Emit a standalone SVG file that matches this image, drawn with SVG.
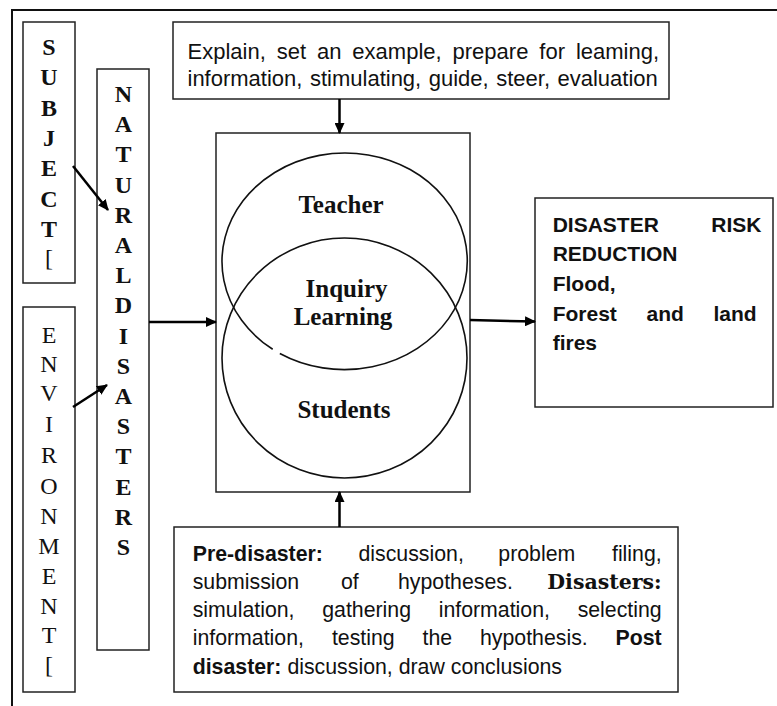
<svg xmlns="http://www.w3.org/2000/svg" width="777" height="706" viewBox="0 0 777 706">
<defs>
<marker id="ah" markerUnits="userSpaceOnUse" markerWidth="11" markerHeight="10" refX="10" refY="5" orient="auto">
<path d="M0,0 L11,5 L0,10 z" fill="#000"/>
</marker>
<style>
.frame{stroke:#111;stroke-width:2;fill:none}
.box{fill:#fff;stroke:#222;stroke-width:1.5}
.ell{fill:none;stroke:#111;stroke-width:1.6}
.conn{stroke:#000;stroke-width:2.5;fill:none;marker-end:url(#ah)}
.ser{font-family:"Liberation Serif","Times New Roman",serif;fill:#111}
.sans{font-family:"Liberation Sans",Arial,sans-serif;fill:#111}
.vl{font-size:24px;text-anchor:middle}
.b{font-weight:bold}
.n{font-weight:normal}
.t22{font-size:22px}
.t21{font-size:21.3px}
.lab{font-size:25px;font-weight:bold;text-anchor:middle}
</style>
</defs>
<g id="frame">
<line class="frame" x1="12" y1="10" x2="777" y2="10"/>
<line class="frame" x1="12" y1="9" x2="12" y2="706"/>
</g>
<g id="subject">
<rect class="box" x="23" y="22" width="52" height="261"/>
<text class="ser vl b">
<tspan x="49" y="55">S</tspan><tspan x="49" y="85.3">U</tspan><tspan x="49" y="115.6">B</tspan><tspan x="49" y="145.9">J</tspan><tspan x="49" y="176.2">E</tspan><tspan x="49" y="206.5">C</tspan><tspan x="49" y="236.8">T</tspan><tspan x="49" y="266" class="n">[</tspan>
</text>
</g>
<g id="environment">
<rect class="box" x="23" y="307" width="52" height="385"/>
<text class="ser vl">
<tspan x="49" y="343">E</tspan><tspan x="49" y="371.5">N</tspan><tspan x="49" y="401">V</tspan><tspan x="49" y="432">I</tspan><tspan x="49" y="463">R</tspan><tspan x="49" y="494">O</tspan><tspan x="49" y="524">N</tspan><tspan x="49" y="553.5">M</tspan><tspan x="49" y="584">E</tspan><tspan x="49" y="614">N</tspan><tspan x="49" y="642.5">T</tspan><tspan x="49" y="673">[</tspan>
</text>
</g>
<g id="natural-disasters">
<rect class="box" x="97" y="69" width="52" height="581"/>
<text class="ser vl b">
<tspan x="123.5" y="102">N</tspan><tspan x="123.5" y="132.2">A</tspan><tspan x="123.5" y="162.4">T</tspan><tspan x="123.5" y="192.6">U</tspan><tspan x="123.5" y="222.8">R</tspan><tspan x="123.5" y="253">A</tspan><tspan x="123.5" y="283.2">L</tspan><tspan x="123.5" y="313.4">D</tspan><tspan x="123.5" y="343.6">I</tspan><tspan x="123.5" y="373.8">S</tspan><tspan x="123.5" y="404">A</tspan><tspan x="123.5" y="434.2">S</tspan><tspan x="123.5" y="464.4">T</tspan><tspan x="123.5" y="494.6">E</tspan><tspan x="123.5" y="524.8">R</tspan><tspan x="123.5" y="555">S</tspan>
</text>
</g>
<g id="teacher-roles">
<rect class="box" x="173" y="22" width="496" height="77"/>
<text class="sans t22" x="187.5" y="59" word-spacing="4.81">Explain, set an example, prepare for leaming,</text>
<text class="sans t22" x="187.5" y="85.5" word-spacing="1.4">information, stimulating, guide, steer, evaluation</text>
</g>
<g id="inquiry-learning">
<rect class="box" x="216" y="133" width="254" height="359"/>
<ellipse class="ell" cx="344.5" cy="358" rx="122.5" ry="120"/>
<path class="ell" d="M279.82,353.51 A123,108.5 0 0 0 410.18,169.49 A123,108.5 0 0 0 272.70,349.28"/>
<text class="ser lab" x="341" y="213">Teacher</text>
<text class="ser lab" x="346.5" y="296.5">Inquiry</text>
<text class="ser lab" x="343" y="325">Learning</text>
<text class="ser lab" x="344" y="417.5">Students</text>
</g>
<g id="disaster-risk-reduction">
<rect class="box" x="535" y="198" width="238" height="209"/>
<text class="sans b" font-size="21" x="552.7" y="231.5" word-spacing="46.6">DISASTER RISK</text>
<text class="sans b" font-size="21" x="552.7" y="261">REDUCTION</text>
<text class="sans b" font-size="21" x="552.7" y="290.5">Flood,</text>
<text class="sans b" font-size="21" x="552.7" y="320.5" word-spacing="23.8">Forest and land</text>
<text class="sans b" font-size="21" x="552.7" y="350">fires</text>
</g>
<g id="phases">
<rect class="box" x="174" y="527" width="504" height="165"/>
<text class="sans t21" y="560.5"><tspan x="192.7" class="b">Pre-disaster:</tspan><tspan x="358.5">discussion,</tspan><tspan x="498.3">problem</tspan><tspan x="661.7" text-anchor="end">filing,</tspan></text>
<text class="sans t21" y="588.8"><tspan x="192.7">submission</tspan><tspan x="341">of</tspan><tspan x="398">hypotheses.</tspan></text>
<text font-family="'DejaVu Serif','Liberation Serif',serif" font-weight="bold" font-size="20.5" fill="#111" x="661.7" y="588.8" text-anchor="end">Disasters:</text>
<text class="sans t21" y="617.1"><tspan x="192.7">simulation,</tspan><tspan x="322.2">gathering</tspan><tspan x="438.7">information,</tspan><tspan x="661.7" text-anchor="end">selecting</tspan></text>
<text class="sans t21" y="645.4"><tspan x="192.7">information,</tspan><tspan x="331.9">testing</tspan><tspan x="422.5">the</tspan><tspan x="480">hypothesis.</tspan><tspan x="661.7" text-anchor="end" class="b">Post</tspan></text>
<text class="sans t21" x="192.7" y="673.7"><tspan class="b">disaster:</tspan> discussion, draw conclusions</text>
</g>
<g id="connectors">
<line class="conn" x1="73" y1="166" x2="108" y2="210"/>
<line class="conn" x1="73" y1="407" x2="107" y2="385"/>
<line class="conn" x1="149" y1="322" x2="216" y2="322"/>
<line class="conn" x1="339.5" y1="99" x2="339.5" y2="133"/>
<line class="conn" x1="339.5" y1="527" x2="339.5" y2="492"/>
<line class="conn" x1="470" y1="320" x2="535" y2="321.5"/>
</g>
</svg>
